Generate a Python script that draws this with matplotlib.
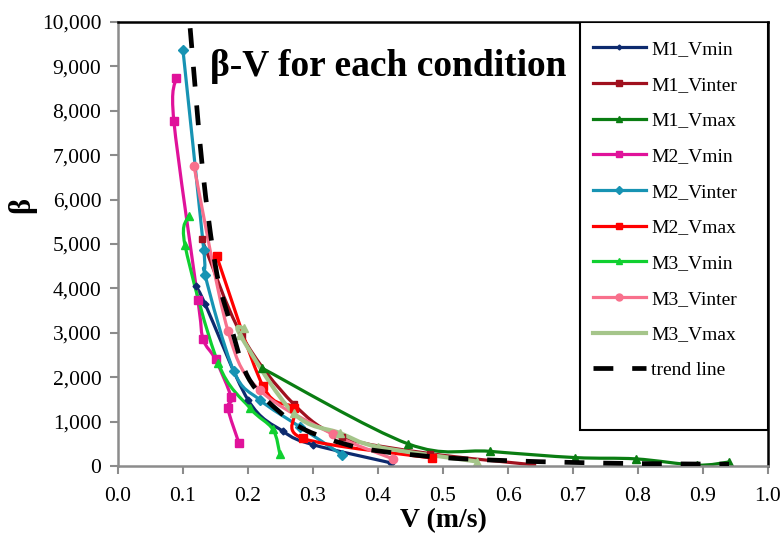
import matplotlib
matplotlib.use("Agg")
import matplotlib.pyplot as plt
import numpy as np
from matplotlib.path import Path
from matplotlib.patches import PathPatch, Rectangle
from matplotlib.lines import Line2D
from matplotlib.ticker import StrMethodFormatter, MultipleLocator

plt.rcParams['font.family'] = ['Liberation Serif', 'DejaVu Serif']

# values (V in m/s, beta)
m1_vmin_v = [0.12, 0.134, 0.20, 0.254, 0.30, 0.42]
m1_vmin_b = [4050, 3650, 1490, 780, 480, 70]

m1_vinter_v = [0.129, 0.19, 0.27, 0.345, 0.48, 0.637]
m1_vinter_b = [5110, 2950, 1400, 650, 280, 30]

m1_vmax_v = [0.222, 0.446, 0.572, 0.703, 0.797, 0.89, 0.94]
m1_vmax_b = [2200, 500, 330, 190, 160, 20, 90]

m2_vmin_v = [0.089, 0.086, 0.123, 0.131, 0.150, 0.174, 0.169, 0.186]
m2_vmin_b = [8730, 7760, 3735, 2860, 2400, 1550, 1300, 520]

m2_vinter_v = [0.10, 0.132, 0.134, 0.178, 0.218, 0.28, 0.345]
m2_vinter_b = [9360, 4860, 4300, 2140, 1490, 880, 250]

m2_vmax_v = [0.152, 0.223, 0.27, 0.285, 0.483]
m2_vmax_b = [4720, 1800, 1300, 620, 180]

m3_vmin_v = [0.109, 0.103, 0.154, 0.203, 0.238, 0.249]
m3_vmin_b = [5630, 4980, 2320, 1305, 830, 270]

m3_vinter_v = [0.117, 0.169, 0.218, 0.33, 0.423]
m3_vinter_b = [6750, 3050, 1710, 720, 160]

m3_vmax_v = [0.194, 0.188, 0.27, 0.342, 0.40, 0.553]
m3_vmax_b = [3100, 2950, 1190, 740, 430, 100]

trend_v = [0.111, 0.13, 0.15, 0.168, 0.20, 0.25, 0.29, 0.35, 0.40, 0.50, 0.60, 0.70, 0.80, 0.94]
trend_b = [9860, 6700, 4500, 3450, 2000, 1200, 800, 490, 340, 190, 120, 80, 55, 40]

series = [
    ('M1_Vmin', m1_vmin_v, m1_vmin_b, '#0d2a6e', 'D', 3.5),
    ('M1_Vinter', m1_vinter_v, m1_vinter_b, '#a0101e', 's', 5),
    ('M1_Vmax', m1_vmax_v, m1_vmax_b, '#0a7d12', '^', 6),
    ('M2_Vmin', m2_vmin_v, m2_vmin_b, '#e0129a', 's', 6),
    ('M2_Vinter', m2_vinter_v, m2_vinter_b, '#1793b3', 'D', 5),
    ('M2_Vmax', m2_vmax_v, m2_vmax_b, '#ff0000', 's', 6),
    ('M3_Vmin', m3_vmin_v, m3_vmin_b, '#10d030', '^', 6),
    ('M3_Vinter', m3_vinter_v, m3_vinter_b, '#f8708c', 'o', 6),
    ('M3_Vmax', m3_vmax_v, m3_vmax_b, '#a5c58a', '^', 6),
]


def smooth_path(xs, ys):
    # Excel-like smoothed line: Catmull-Rom through the points as cubic Beziers
    pts = np.column_stack([xs, ys]).astype(float)
    n = len(pts)
    verts = [pts[0]]
    codes = [Path.MOVETO]
    for i in range(n - 1):
        p0 = pts[max(i - 1, 0)]
        p1 = pts[i]
        p2 = pts[i + 1]
        p3 = pts[min(i + 2, n - 1)]
        verts += [p1 + (p2 - p0) / 6, p2 - (p3 - p1) / 6, p2]
        codes += [Path.CURVE4] * 3
    return Path(verts, codes)


fig = plt.figure(figsize=(7.83, 5.43), dpi=100)
ax = fig.add_axes([118 / 783, 1 - 466 / 543, 650 / 783, 444 / 543])

handles = []
for name, vs, bs, color, mk, ms in series:
    lw = 3.0 if name == 'M3_Vmax' else 2.3
    ax.add_patch(PathPatch(smooth_path(vs, bs), facecolor='none', edgecolor=color,
                           lw=lw, capstyle='round', joinstyle='round'))
    ax.plot(vs, bs, linestyle='none', marker=mk, color=color, ms=ms)
    if name == 'M3_Vmax':
        handles.append(Line2D([], [], color=color, lw=3.0))
    else:
        handles.append(Line2D([], [], color=color, lw=2.3, marker=mk, ms=ms - 1))

trend_patch = PathPatch(smooth_path(trend_v, trend_b), facecolor='none', edgecolor='black',
                        lw=3.4, zorder=5)
trend_patch.set_linestyle((0, (4.2, 4.0)))
ax.add_patch(trend_patch)
handles.append(Line2D([], [], color='black', lw=3.4, dashes=(4.2, 4.0)))

ax.set_xlim(0, 1.0)
ax.set_ylim(0, 10000)
ax.xaxis.set_major_locator(MultipleLocator(0.1))
ax.yaxis.set_major_locator(MultipleLocator(1000))
ax.xaxis.set_major_formatter(StrMethodFormatter('{x:.1f}'))
ax.yaxis.set_major_formatter(StrMethodFormatter('{x:,.0f}'))
ax.tick_params(axis='both', direction='out', length=6, width=1.5, color='#8c8c8c',
               labelsize=15.5)
ax.tick_params(axis='x', pad=9)
ax.tick_params(axis='y', pad=6)

for side in ['left', 'bottom']:
    ax.spines[side].set_color('#8c8c8c')
    ax.spines[side].set_linewidth(1.8)
for side in ['top', 'right']:
    ax.spines[side].set_color('black')
    ax.spines[side].set_linewidth(1.8)

ax.set_xlabel('V (m/s)', fontsize=20, fontweight='bold')
ax.xaxis.set_label_coords(0.5, -0.095)
ax.set_ylabel('β', fontsize=22, fontweight='bold')
ax.yaxis.set_label_coords(-0.125, 0.588)

ax.text(0.141, 0.90, 'β-V for each condition', transform=ax.transAxes,
        fontsize=27, fontweight='bold', ha='left', va='center')

# legend box sits over the right part of the plot area
ax.add_patch(Rectangle((0.711, 0.08), 0.289, 0.92, transform=ax.transAxes,
                       facecolor='white', edgecolor='black', lw=1.5, zorder=6))
labels = [s[0] for s in series] + ['trend line']
leg = ax.legend(handles, labels, loc='upper left', bbox_to_anchor=(0.7308, 0.9585),
                frameon=False, fontsize=14, handlelength=2.7, handletextpad=0.3,
                labelspacing=0.93, borderpad=0, borderaxespad=0)
leg.set_zorder(7)

fig.savefig('out.png', dpi=100)
